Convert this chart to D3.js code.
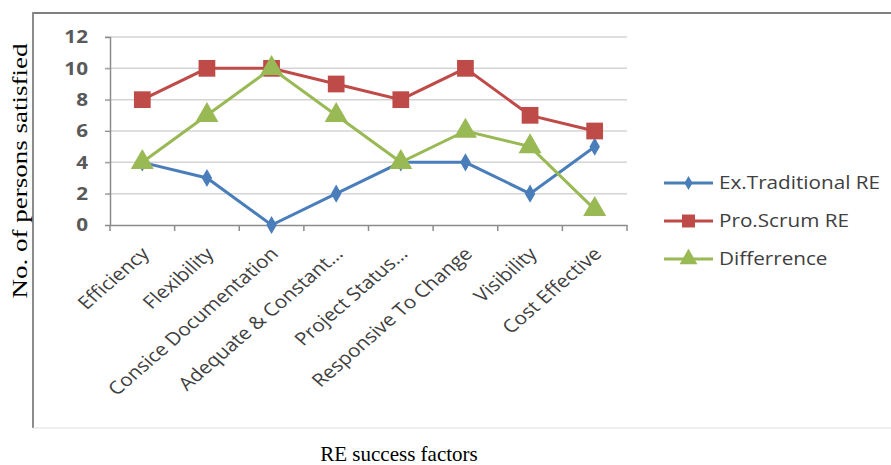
<!DOCTYPE html>
<html>
<head>
<meta charset="utf-8">
<script src="https://cdn.jsdelivr.net/npm/d3@7"></script>
<style>
  body { margin: 0; background: #fff; }
  svg { display: block; }
</style>
</head>
<body>
<div id="chart"></div>
<script>
// chart data
var categories = ['Efficiency', 'Flexibility', 'Consice Documentation', 'Adequate & Constant...',
                  'Project Status...', 'Responsive To Change', 'Visibility', 'Cost Effective'];
var traditional = [4, 3, 0, 2, 4, 4, 2, 5];
var scrum = [8, 10, 10, 9, 8, 10, 7, 6];
var difference = [4, 7, 10, 7, 4, 6, 5, 1];
var yTicks = [0, 2, 4, 6, 8, 10, 12];
var seriesNames = ['Ex.Traditional RE', 'Pro.Scrum RE', 'Differrence'];

var series = [
    {name: seriesNames[0], values: traditional, color: '#4a7ebb', shape: d3.symbolDiamond, size: 95},
    {name: seriesNames[1], values: scrum, color: '#be4b48', shape: d3.symbolSquare, size: 280},
    {name: seriesNames[2], values: difference, color: '#98b954', shape: d3.symbolTriangle, size: 230}
];

var W = 891, H = 465;
var plot = {left: 110, right: 627, top: 37, bottom: 225};
var stretch = 1.15; // the source picture is a little wider than tall
var font = '"Open Sans", sans-serif';

var svg = d3.select('#chart').append('svg')
    .attr('width', W).attr('height', H);

// outer frame
svg.append('line').attr('x1', 33).attr('x2', W).attr('y1', 13).attr('y2', 13)
    .attr('stroke', '#7f7f7f').attr('stroke-width', 2);
svg.append('line').attr('x1', 33).attr('x2', 33).attr('y1', 12).attr('y2', 428)
    .attr('stroke', '#8c8c8c').attr('stroke-width', 2);
svg.append('line').attr('x1', 33).attr('x2', W).attr('y1', 428).attr('y2', 428)
    .attr('stroke', '#e0e0e0').attr('stroke-width', 1);

var x = d3.scaleBand().domain(categories).range([plot.left, plot.right]);
var y = d3.scaleLinear().domain([0, 12]).range([plot.bottom, plot.top]);

// gridlines
svg.append('g').selectAll('line')
    .data(yTicks.filter(function(d){ return d > 0; }))
    .enter().append('line')
    .attr('x1', plot.left - 5).attr('x2', plot.right)
    .attr('y1', function(d){ return y(d); }).attr('y2', function(d){ return y(d); })
    .attr('stroke', '#d4d4d4').attr('stroke-width', 1.5);

// y axis
var yAxis = svg.append('g')
    .attr('transform', 'translate(' + plot.left + ',0)')
    .call(d3.axisLeft(y).tickValues(yTicks).tickSize(5));
yAxis.select('.domain').attr('stroke', '#8c8c8c').attr('stroke-width', 1.5);
yAxis.selectAll('.tick line').attr('stroke', '#8c8c8c');
yAxis.selectAll('.tick text')
    .attr('x', 0)
    .attr('transform', 'translate(-22,0) scale(' + stretch + ',1)')
    .style('font-family', font).style('font-size', '18px')
    .style('font-weight', 'bold').attr('fill', '#595959');

// x axis
var xAxis = svg.append('g')
    .attr('transform', 'translate(0,' + plot.bottom + ')')
    .call(d3.axisBottom(x).tickSize(0).tickPadding(0));
xAxis.select('.domain').attr('stroke', '#8c8c8c').attr('stroke-width', 1.5);
// tick marks at category boundaries
svg.append('g').selectAll('line')
    .data(d3.range(categories.length + 1))
    .enter().append('line')
    .attr('x1', function(i){ return plot.left + i * x.step(); })
    .attr('x2', function(i){ return plot.left + i * x.step(); })
    .attr('y1', plot.bottom).attr('y2', plot.bottom + 6)
    .attr('stroke', '#8c8c8c').attr('stroke-width', 1.5);
xAxis.selectAll('.tick text')
    .attr('text-anchor', 'end')
    .attr('y', 0).attr('dy', 0)
    .attr('transform', 'translate(8,30) scale(' + stretch + ',1) rotate(-45)')
    .style('font-family', font).style('font-size', '18px')
    .attr('fill', '#404040');

// lines and markers
var line = d3.line()
    .x(function(d, i){ return x(categories[i]) + x.bandwidth() / 2; })
    .y(function(d){ return y(d); });

series.forEach(function(s){
    svg.append('path').datum(s.values)
        .attr('d', line).attr('fill', 'none')
        .attr('stroke', s.color).attr('stroke-width', 3);
    svg.append('g').selectAll('path')
        .data(s.values).enter().append('path')
        .attr('d', d3.symbol().type(s.shape).size(s.size))
        .attr('transform', function(d, i){
            return 'translate(' + (x(categories[i]) + x.bandwidth() / 2) + ',' + y(d) + ')';
        })
        .attr('fill', s.color);
});

// legend
var legend = svg.append('g');
series.forEach(function(s, i){
    var ly = 183 + i * 38;
    legend.append('line').attr('x1', 664).attr('x2', 713).attr('y1', ly).attr('y2', ly)
        .attr('stroke', s.color).attr('stroke-width', 3);
    legend.append('path')
        .attr('d', d3.symbol().type(s.shape).size(s.size * 0.6))
        .attr('transform', 'translate(688.5,' + ly + ')')
        .attr('fill', s.color);
    legend.append('text').attr('x', 0).attr('y', 0).attr('dy', '0.35em')
        .attr('transform', 'translate(719,' + ly + ') scale(' + stretch + ',1)')
        .text(s.name)
        .style('font-family', font).style('font-size', '18px')
        .attr('fill', '#404040');
});

// axis titles
svg.append('text')
    .attr('transform', 'translate(27,171) rotate(-90)')
    .attr('text-anchor', 'middle')
    .attr('textLength', 255).attr('lengthAdjust', 'spacingAndGlyphs')
    .style('font-family', '"Liberation Serif", serif').style('font-size', '21px')
    .text('No. of persons satisfied');
svg.append('text')
    .attr('x', 399).attr('y', 461)
    .attr('text-anchor', 'middle')
    .style('font-family', '"Liberation Serif", serif').style('font-size', '21px')
    .text('RE success factors');
</script>
</body>
</html>
